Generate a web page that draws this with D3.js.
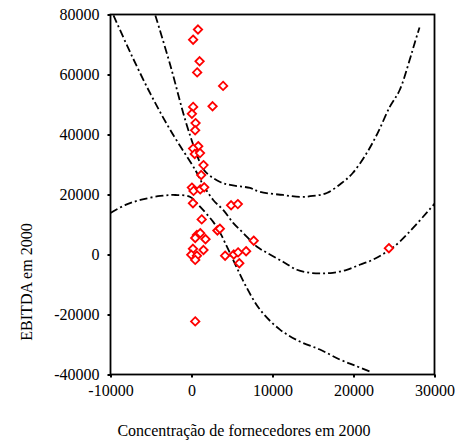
<!DOCTYPE html>
<html>
<head>
<meta charset="utf-8">
<script src="https://cdn.jsdelivr.net/npm/d3@7"></script>
<style>
  html, body { margin: 0; padding: 0; background: #fff; }
  svg { display: block; }
  svg text { font-family: "Liberation Serif", "Times New Roman", serif !important; fill: #000; }
</style>
</head>
<body>
<svg id="chart" width="455" height="445"></svg>
<script>
// ---- data ----
const xTicks = [-10000, 0, 10000, 20000, 30000];
const yTicks = [-40000, -20000, 0, 20000, 40000, 60000, 80000];
const xTitle = "Concentração de fornecedores em 2000";
const yTitle = "EBITDA em 2000";

const supplierX = [800, 200, 1000, 700, 3900, 2600, 200, 50, 500, 450, 830, 200, 400, 1050,
  1480, 1200, 50, 250, 1080, 1570, 180, 4890, 5720, 1260, 3200, 3500, 670, 1080, 460, 1730,
  7680, 180, 1480, -30, 670, 460, 4150, 5220, 5750, 6740, 5900, 460, 24370];
const ebitdaY = [75000, 71600, 64400, 60700, 56200, 49400, 49200, 46900, 43800, 41400, 36100, 35300, 33500, 33800,
  29800, 26500, 22300, 21200, 21700, 22400, 17100, 16400, 16800, 11700, 8000, 8600, 6500, 7100, 5500, 5100,
  4600, 1900, 1500, -100, -400, -1800, -400, 0, 700, 1100, -2900, -22300, 2100];

// fitted curve
const fitX = [-9630, -7500, -5000, -2600, 500, 1446, 2680, 3910, 5140, 6370, 8090, 9320, 11290, 13010, 14610, 16000, 17440, 19170, 20770, 22370, 24090, 25690, 29880, 30500];
const fitY = [79700, 67000, 53200, 41400, 28000, 23170, 18180, 14860, 10540, 7210, 2560, 565, -2430, -5090, -6090, -6300, -6090, -5090, -3420, -1760, 900, 4220, 16520, 18500];

// upper band
const upX = [-4460, -2615, -770, 585, 1446, 2310, 3538, 4770, 7230, 8460, 11290, 13380, 14980, 16710, 18550, 19910, 21630, 22980, 24460, 25690, 26920, 27540, 28150];
const upY = [79700, 63080, 44800, 33800, 28500, 26160, 24170, 23170, 22170, 20840, 19840, 19180, 19510, 20510, 23830, 27160, 33810, 40460, 49100, 54750, 64720, 70370, 75690];

// lower band
const loX = [-10000, -8150, -6310, -3850, -2000, -150, 1080, 2680, 3540, 4150, 5140, 6620, 8460, 10920, 13380, 15850, 18310, 20150, 22000];
const loY = [13860, 16520, 18180, 19510, 19840, 19180, 15850, 10870, 7210, 3890, -1760, -10070, -18380, -25030, -29020, -31680, -35000, -37000, -39000];

// ---- drawing ----
const svg = d3.select("#chart");
const x = d3.scaleLinear().domain([-10000, 30000]).range([110.5, 434.5]);
const y = d3.scaleLinear().domain([-40000, 80000]).range([374.5, 14.5]);

svg.append("defs").append("clipPath").attr("id", "plotclip")
  .append("rect").attr("x", 110.5).attr("y", 14.5).attr("width", 324).attr("height", 360);

const lineGen = d3.line().x(d => x(d[0])).y(d => y(d[1])).curve(d3.curveCatmullRom);
const curves = [
  d3.zip(fitX, fitY),
  d3.zip(upX, upY),
  d3.zip(loX, loY)
];
const cg = svg.append("g").attr("clip-path", "url(#plotclip)");
cg.selectAll("path.curve").data(curves).join("path")
  .attr("class", "curve")
  .attr("d", lineGen)
  .attr("fill", "none")
  .attr("stroke", "#000")
  .attr("stroke-width", 1.8)
  .attr("stroke-dasharray", "8,3,2,3");

// points: hollow red diamonds
const pts = d3.zip(supplierX, ebitdaY);
svg.append("g").selectAll("path.pt").data(pts).join("path")
  .attr("class", "pt")
  .attr("transform", d => `translate(${x(d[0])},${y(d[1])})`)
  .attr("d", "M0,-4.2L4.2,0L0,4.2L-4.2,0Z")
  .attr("fill", "#fff")
  .attr("stroke", "#ff0000")
  .attr("stroke-width", 1.8);

// axes
const fmt = d => String(d);
const xAxis = d3.axisBottom(x).tickValues(xTicks).tickSize(3).tickPadding(6).tickFormat(fmt);
const yAxis = d3.axisLeft(y).tickValues(yTicks).tickSize(3).tickPadding(8).tickFormat(fmt);
const gx = svg.append("g").attr("transform", "translate(0,374.5)").call(xAxis);
const gy = svg.append("g").attr("transform", "translate(110.5,0)").call(yAxis);
[gx, gy].forEach(g => {
  g.attr("font-family", "Liberation Serif").attr("font-size", 16);
  g.select(".domain").remove();
  g.selectAll(".tick line").attr("stroke", "#000").attr("stroke-width", 2);
  g.selectAll(".tick text").attr("fill", "#000");
});
gx.selectAll(".tick text").attr("dy", "0.75em");

// frame
svg.append("rect").attr("x", 110.5).attr("y", 14.5).attr("width", 324).attr("height", 360)
  .attr("fill", "none").attr("stroke", "#000").attr("stroke-width", 1.8);

// titles
svg.append("text").attr("x", 244).attr("y", 436).attr("text-anchor", "middle")
  .attr("font-size", 16).text(xTitle);
svg.append("text").attr("transform", "translate(32,282) rotate(-90)").attr("text-anchor", "middle")
  .attr("font-size", 16).text(yTitle);
</script>
</body>
</html>
